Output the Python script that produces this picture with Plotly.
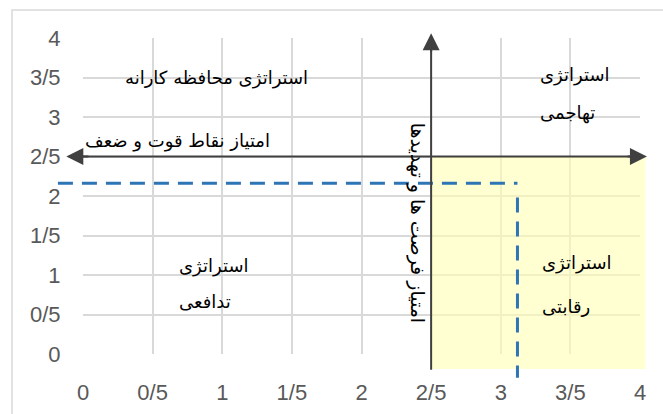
import plotly.graph_objects as go

# --- data ---
tick_vals = [0, 0.5, 1, 1.5, 2, 2.5, 3, 3.5, 4]
tick_text = ["0", "0/5", "1", "1/5", "2", "2/5", "3", "3/5", "4"]
axis_mid = 2.5           # quadrant split on both axes
score_x = 3.12           # internal factors (strengths/weaknesses) score
score_y = 2.16           # external factors (opportunities/threats) score

quad_labels = [
    # (x, y, text, xanchor)
    (0.96, 3.50, "استراتژی محافظه کارانه", "center"),
    (3.27, 3.53, "استراتژی", "left"),
    (3.27, 3.05, "تهاجمی", "left"),
    (0.675, 1.12, "استراتژی", "left"),
    (0.675, 0.67, "تدافعی", "left"),
    (3.28, 1.15, "استراتژی", "left"),
    (3.28, 0.60, "رقابتی", "left"),
]
h_axis_title = "امتیاز نقاط قوت و ضعف"
v_axis_title = "امتیاز فرصت ها و تهدیدها"

W, H = 663, 414
L, R, T, B = 83, 23, 38, 60
XMIN, XMAX, YMIN, YMAX = 0, 4, 0, 4
TXT_FONT = dict(size=18, color="#000000", family="DejaVu Sans")


def px_(v):  # data x -> paper x (unclipped shapes)
    return (v - XMIN) / (XMAX - XMIN)


def py_(v):  # data y -> paper y
    return (v - YMIN) / (YMAX - YMIN)


fig = go.Figure()

# invisible trace to fix axes
fig.add_trace(go.Scatter(x=[XMIN, XMAX], y=[YMIN, YMAX], mode="markers",
                         marker=dict(opacity=0), hoverinfo="skip", showlegend=False))

shapes = []
# yellow quadrant (semi-transparent, grid shows through)
shapes.append(dict(type="rect", xref="paper", yref="paper",
                   x0=px_(axis_mid), x1=px_(4.04), y0=py_(-0.19), y1=py_(axis_mid),
                   fillcolor="rgba(255,255,180,0.6)", line=dict(width=0), layer="above"))
# outer border (paper)
shapes.append(dict(type="rect", xref="paper", yref="paper",
                   x0=(12 - L) / (W - L - R), x1=(W + 20 - L) / (W - L - R),
                   y0=-(B + 20) / (H - T - B), y1=1 + (T - 10) / (H - T - B),
                   line=dict(color="#D9D9D9", width=1.5), fillcolor="rgba(0,0,0,0)"))
# dashed blue lines
shapes.append(dict(type="line", xref="paper", yref="paper",
                   x0=px_(-0.18), x1=px_(score_x), y0=py_(score_y), y1=py_(score_y),
                   line=dict(color="#2E75B6", width=3, dash="15px,9px")))
shapes.append(dict(type="line", xref="paper", yref="paper",
                   x0=px_(score_x), x1=px_(score_x), y0=py_(score_y - 0.18), y1=py_(-0.3),
                   line=dict(color="#2E75B6", width=3, dash="15px,9px")))
# axes lines (arrow shafts)
shapes.append(dict(type="line", xref="paper", yref="paper",
                   x0=px_(-0.05), x1=px_(3.98), y0=py_(axis_mid), y1=py_(axis_mid),
                   line=dict(color="#404040", width=2)))
shapes.append(dict(type="line", xref="paper", yref="paper",
                   x0=px_(axis_mid), x1=px_(axis_mid), y0=py_(-0.2), y1=py_(3.98),
                   line=dict(color="#404040", width=2)))

annotations = []


def head(x, y, ax, ay):
    annotations.append(dict(x=x, y=y, ax=ax, ay=ay, xref="x", yref="y", axref="x", ayref="y",
                            showarrow=True, arrowhead=2, arrowsize=1.7, arrowwidth=2,
                            arrowcolor="#404040", text=""))


head(4.05, axis_mid, 3.9, axis_mid)
head(-0.12, axis_mid, 0.05, axis_mid)
head(axis_mid, 4.06, axis_mid, 3.8)
head(axis_mid, -0.29, axis_mid, -0.05)

for x, y, t, xa in quad_labels:
    annotations.append(dict(x=x, y=y, xref="x", yref="y", text=t, showarrow=False,
                            xanchor=xa, font=TXT_FONT))

annotations.append(dict(x=0.0, y=2.7, xref="x", yref="y", text=h_axis_title, showarrow=False,
                        xanchor="left", font=TXT_FONT))
annotations.append(dict(x=2.4, y=1.66, xref="x", yref="y", text=v_axis_title, showarrow=False,
                        textangle=90, font=dict(TXT_FONT, size=19)))

fig.update_layout(
    width=W, height=H,
    margin=dict(l=L, r=R, t=T, b=B, autoexpand=False),
    paper_bgcolor="white", plot_bgcolor="rgba(0,0,0,0)",
    shapes=shapes, annotations=annotations,
    showlegend=False,
    font=dict(family="Liberation Sans, Arial", size=22, color="#595959"),
)
axis_common = dict(range=[XMIN, XMAX], tickvals=tick_vals, ticktext=tick_text,
                   showgrid=True, gridcolor="#D9D9D9", gridwidth=1.5,
                   zeroline=False, showline=False, mirror=False,
                   ticks="outside", tickcolor="rgba(0,0,0,0)",
                   tickfont=dict(size=22, color="#595959"))
fig.update_xaxes(**axis_common, ticklen=19)
fig.update_yaxes(**axis_common, ticklen=17)

fig.write_html("out.html", config={"displayModeBar": False},
               post_script="document.body.style.margin='0';document.body.style.overflow='hidden';")
